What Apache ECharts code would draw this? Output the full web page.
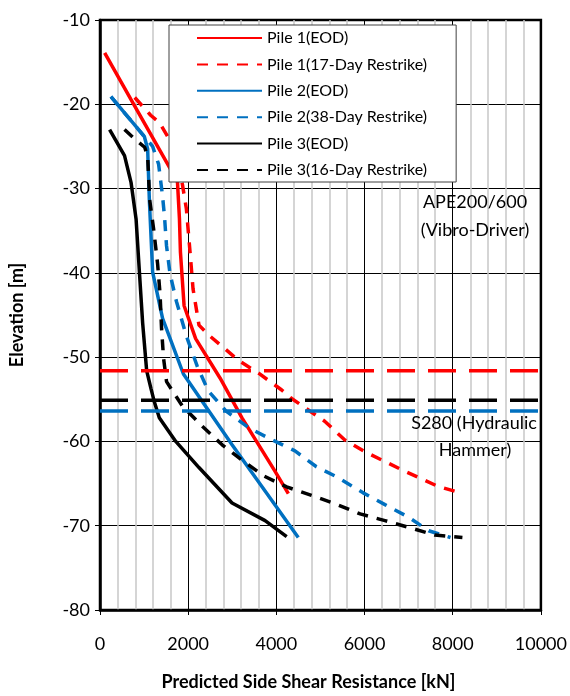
<!DOCTYPE html>
<html>
<head>
<meta charset="utf-8">
<script src="https://cdn.jsdelivr.net/npm/echarts@6/dist/echarts.min.js"></script>
<style>
  html, body { margin: 0; padding: 0; background: #fff; }
  #chart { width: 570px; height: 696px; }
</style>
</head>
<body>
<div id="chart"></div>
<script>
// Pile 1 (red)
const p1EodX = [106, 698, 1599, 1757, 1802, 1824, 1907, 2169, 2725, 3220, 3964, 4272];
const p1EodY = [-13.9, -19.4, -27.7, -29.2, -33.6, -37.5, -43.9, -47.8, -52.5, -57.2, -63.5, -66.2];
const p1RsX = [788, 1149, 1351, 1531, 1599, 1869, 1959, 2042, 2110, 2245, 2470, 2695, 3146, 3597, 4121, 4346, 5096, 5547, 5997, 6898, 7650, 8175];
const p1RsY = [-19.2, -21.3, -22.2, -23.8, -24.4, -29.5, -32.4, -37.5, -41.9, -46.2, -47.4, -48.4, -50.4, -51.9, -53.9, -54.9, -57.6, -59.8, -61.2, -63.5, -65.3, -66.1];

// Pile 2 (blue)
const p2EodX = [248, 1004, 1081, 1119, 1194, 1419, 1892, 2995, 4497];
const p2EodY = [-19.1, -23.8, -25.3, -31.3, -39.9, -45.4, -52.0, -60.4, -71.4];
const p2RsX = [248, 1194, 1329, 1419, 1464, 1509, 1588, 1734, 1959, 2207, 2455, 2860, 3378, 3896, 4414, 4909, 5405, 5968, 6463, 7004, 7454, 7950];
const p2RsY = [-19.1, -25.0, -27.1, -30.9, -33.4, -36.8, -40.1, -43.4, -47.5, -51.1, -54.0, -56.4, -58.4, -59.8, -61.1, -63.0, -64.3, -66.1, -67.5, -69.0, -70.6, -71.4];

// Pile 3 (black)
const p3EodX = [218, 556, 705, 818, 894, 968, 1058, 1155, 1232, 1345, 1718, 2245, 2995, 3745, 4234];
const p3EodY = [-23.0, -26.1, -29.3, -33.6, -39.9, -46.0, -51.6, -53.7, -55.3, -57.2, -60.0, -63.1, -67.3, -69.4, -71.3];
const p3RsX = [556, 781, 1013, 1081, 1126, 1216, 1306, 1362, 1396, 1441, 1509, 1644, 1869, 2320, 2770, 3243, 3716, 4234, 4797, 5337, 5900, 6463, 7071, 7589, 8220];
const p3RsY = [-23.0, -24.1, -25.1, -26.2, -31.3, -34.8, -38.9, -42.5, -46.6, -50.1, -52.9, -54.0, -55.8, -58.2, -60.4, -62.3, -64.1, -65.4, -66.4, -67.4, -68.6, -69.4, -70.3, -71.1, -71.4];

// hammer / driver reference elevations
const refX = [0, 10000];
const apeLevelP1 = -51.6;
const s280LevelP3 = -55.1;
const s280LevelP2 = -56.4;

const RED = '#FF0000';
const BLUE = '#0070C0';
const BLACK = '#000000';
const FONT = 'Lato';

function pairs(xs, ys) {
  return xs.map((x, i) => [x, ys[i]]);
}

function curve(name, xs, ys, color, dashed) {
  return {
    name: name,
    type: 'line',
    symbol: 'none',
    showSymbol: false,
    smooth: false,
    z: 2,
    lineStyle: { color: color, width: 3.5, type: dashed ? [11, 9] : 'solid' },
    itemStyle: { color: color },
    data: pairs(xs, ys)
  };
}

function refLine(level, color) {
  return {
    type: 'line',
    symbol: 'none',
    showSymbol: false,
    silent: true,
    z: 3,
    lineStyle: { color: color, width: 3.5, type: [28, 13] },
    data: refX.map(x => [x, level])
  };
}

function note(text, x, y) {
  return {
    type: 'text', x: x, y: y, z: 10,
    style: { text: text, fontFamily: FONT, fontSize: 18, fill: '#000', align: 'center', verticalAlign: 'middle' }
  };
}

var myChart = echarts.init(document.getElementById('chart'));

var option = {
  backgroundColor: '#fff',
  animation: false,
  textStyle: { fontFamily: FONT },
  grid: {
    left: 97, right: 29, top: 20, bottom: 83,
    show: true, borderColor: '#000', borderWidth: 2.5
  },
  legend: {
    orient: 'vertical',
    left: 169, top: 25,
    padding: [5, 29, 4, 27],
    itemWidth: 65, itemHeight: 14, itemGap: 10.4,
    backgroundColor: '#fff',
    borderColor: '#404040', borderWidth: 1,
    // hide the marker dot, keep the line sample
    itemStyle: { opacity: 0 },
    textStyle: { fontFamily: FONT, fontSize: 16, color: '#000' },
    data: ['Pile 1(EOD)', 'Pile 1(17-Day Restrike)', 'Pile 2(EOD)',
           'Pile 2(38-Day Restrike)', 'Pile 3(EOD)', 'Pile 3(16-Day Restrike)']
  },
  xAxis: {
    type: 'value',
    min: 0, max: 10000, interval: 2000,
    name: 'Predicted Side Shear Resistance [kN]',
    nameLocation: 'middle',
    nameGap: 63,
    nameTextStyle: { fontFamily: FONT, fontSize: 18, fontWeight: 'bold', color: '#000', padding: [0, 24, 0, 0] },
    axisLine: { show: true, onZero: false, lineStyle: { color: '#000', width: 2.5 } },
    axisTick: { show: true, inside: false, length: 5, lineStyle: { color: '#000', width: 1 } },
    axisLabel: { fontFamily: FONT, fontSize: 18, color: '#000', margin: 25, formatter: v => String(v) },
    splitLine: { show: true, lineStyle: { color: '#000', width: 1 } },
    minorTick: { show: false, splitNumber: 5 },
    minorSplitLine: { show: true, lineStyle: { color: '#C8C8C8', width: 1.5 } }
  },
  yAxis: {
    type: 'value',
    min: -80, max: -10, interval: 10,
    name: 'Elevation [m]',
    nameLocation: 'middle',
    nameGap: 74,
    nameTextStyle: { fontFamily: FONT, fontSize: 18, fontWeight: 'bold', color: '#000' },
    axisLine: { show: true, onZero: false, lineStyle: { color: '#000', width: 2.5 } },
    axisTick: { show: true, inside: false, length: 5, lineStyle: { color: '#000', width: 1 } },
    axisLabel: { fontFamily: FONT, fontSize: 18, color: '#000', margin: 10, formatter: v => String(v) },
    splitLine: { show: true, lineStyle: { color: '#000', width: 1 } }
  },
  graphic: [
    note('APE200/600', 475, 202),
    note('(Vibro-Driver)', 475, 230),
    note('S280 (Hydraulic', 474, 423),
    note('Hammer)', 475, 450)
  ],
  series: [
    curve('Pile 1(EOD)', p1EodX, p1EodY, RED, false),
    curve('Pile 1(17-Day Restrike)', p1RsX, p1RsY, RED, true),
    curve('Pile 2(EOD)', p2EodX, p2EodY, BLUE, false),
    curve('Pile 2(38-Day Restrike)', p2RsX, p2RsY, BLUE, true),
    curve('Pile 3(EOD)', p3EodX, p3EodY, BLACK, false),
    curve('Pile 3(16-Day Restrike)', p3RsX, p3RsY, BLACK, true),
    refLine(apeLevelP1, RED),
    refLine(s280LevelP3, BLACK),
    refLine(s280LevelP2, BLUE)
  ]
};

myChart.setOption(option);
</script>
</body>
</html>
